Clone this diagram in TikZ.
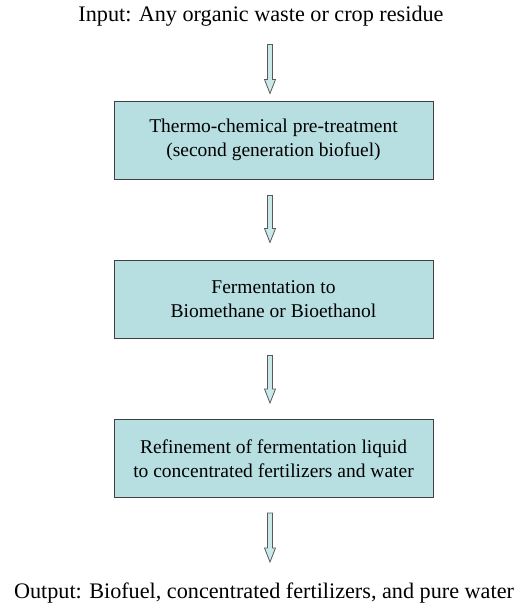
\documentclass[tikz,border=0pt]{standalone}
\usepackage{fontspec}
\setmainfont{Liberation Serif}
\usetikzlibrary{calc}
\definecolor{boxfill}{HTML}{B7DFE1}
\definecolor{boxline}{HTML}{404040}
\definecolor{arrfill}{HTML}{CBE8E8}
\definecolor{arrline}{HTML}{5A5A5A}
\tikzset{
  stage/.style={draw=boxline, line width=1pt, fill=boxfill, minimum width=319pt, minimum height=78pt,
    align=center, inner sep=0pt, font=\fontsize{19.5}{23.5}\selectfont},
  label/.style={inner sep=0pt, font=\fontsize{22.2}{26}\selectfont},
  barrow/.style={draw=arrline, fill=arrfill, line width=0.8pt, line join=miter}
}
\newcommand\bigarrow[2]{%
  \draw[barrow] ($(#1)+(-2.5,0)$) -- ($(#2)+(-2.5,-14)$) -- ($(#2)+(-5.5,-14)$) -- (#2)
    -- ($(#2)+(5.5,-14)$) -- ($(#2)+(2.5,-14)$) -- ($(#1)+(2.5,0)$) -- cycle;}
\begin{document}
\begin{tikzpicture}[x=1pt,y=-1pt]
\useasboundingbox (0,0) rectangle (521,606);
\node[label] (in) at (261,16) {Input: Any organic waste or crop residue};
\node[stage] (b1) at (273.5,140) {Thermo-chemical pre-treatment\\(second generation biofuel)};
\node[stage] (b2) at (273.5,299) {Fermentation to\\Biomethane or Bioethanol};
\node[stage] (b3) at (273.5,458.5) {Refinement of fermentation liquid\\to concentrated fertilizers and water};
\node[label] (out) at (264,593) {Output: Biofuel, concentrated fertilizers, and pure water};
\coordinate (ax) at (270,0);
\coordinate (a1s) at ($(ax |- b1.north)+(0,-56)$);
\coordinate (a1e) at ($(ax |- b1.north)+(0,-7)$);
\coordinate (a2s) at ($(ax |- b1.south)+(0,16)$);
\coordinate (a2e) at ($(ax |- b2.north)+(0,-17)$);
\coordinate (a3s) at ($(ax |- b2.south)+(0,17)$);
\coordinate (a3e) at ($(ax |- b3.north)+(0,-16)$);
\coordinate (a4s) at ($(ax |- b3.south)+(0,15)$);
\coordinate (a4e) at ($(ax |- b3.south)+(0,64)$);
\bigarrow{a1s}{a1e}
\bigarrow{a2s}{a2e}
\bigarrow{a3s}{a3e}
\bigarrow{a4s}{a4e}
\end{tikzpicture}
\end{document}
